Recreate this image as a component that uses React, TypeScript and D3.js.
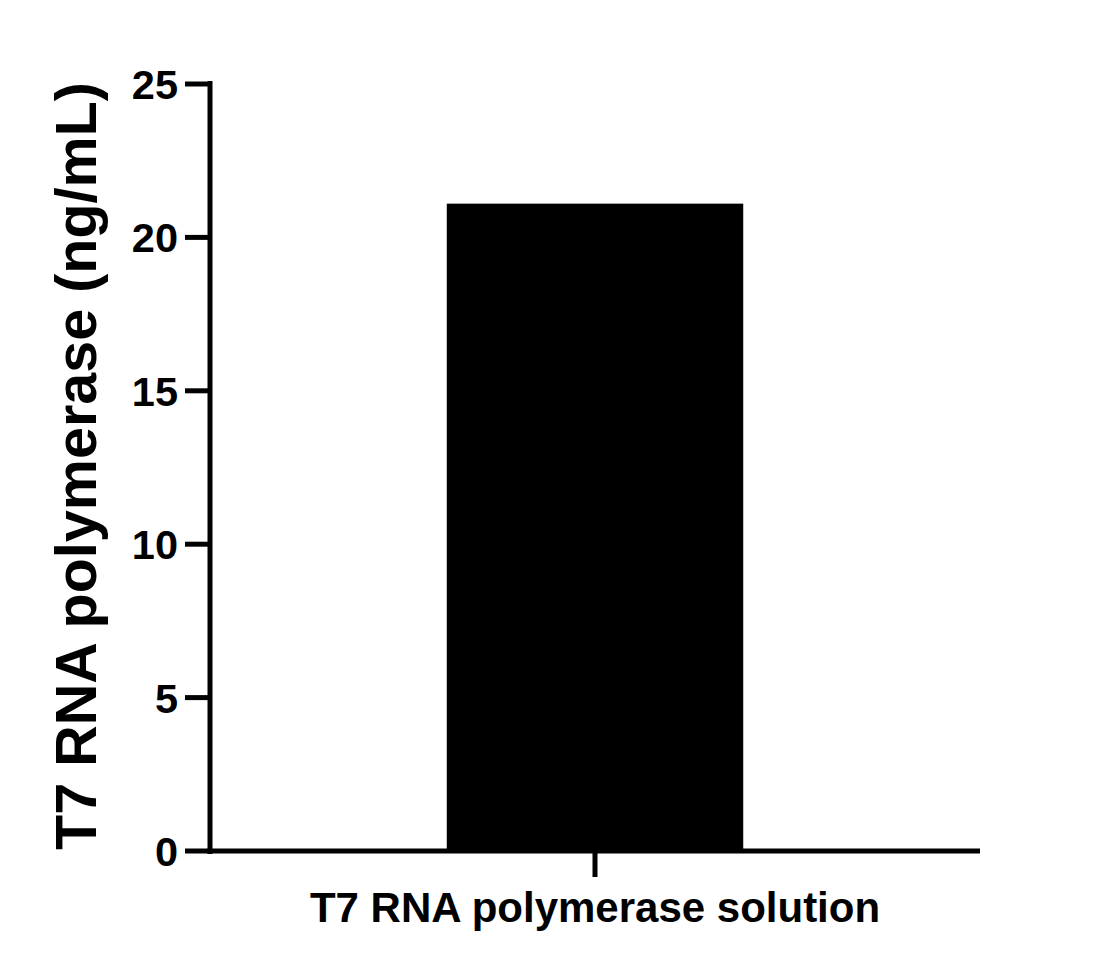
import React from "react";
import * as d3 from "d3";

const categories = ["T7 RNA polymerase solution"];
const values = [21.1];
const yTicks = [0, 5, 10, 15, 20, 25];
const yLabel = "T7 RNA polymerase (ng/mL)";

export default function App() {
  const W = 1116, H = 968;
  const x0 = 210, x1 = 980, yTop = 84, yBot = 851;
  const y = d3.scaleLinear().domain([0, 25]).range([yBot, yTop]);
  const x = d3.scaleBand().domain(categories).range([x0, x1]).paddingInner(0.615).paddingOuter(0.3075);
  const font = "'Liberation Sans', Arial, sans-serif";
  return (
    <svg width={W} height={H} style={{ position: "absolute", left: 0, top: 0 }}>
      <rect width={W} height={H} fill="#fff" />
      {categories.map((c, i) => (
        <rect key={c} x={x(c)!} y={y(values[i])} width={x.bandwidth()} height={yBot - y(values[i])} fill="#000" />
      ))}
      <line x1={x0} x2={x0} y1={yTop - 3} y2={yBot + 3} stroke="#000" strokeWidth={5} />
      <line x1={x0 - 2.5} x2={x1} y1={yBot} y2={yBot} stroke="#000" strokeWidth={5} />
      {yTicks.map((t) => (
        <g key={t}>
          <line x1={185} x2={x0} y1={y(t)} y2={y(t)} stroke="#000" strokeWidth={5} />
          <text x={178} y={y(t)} dy="0.36em" textAnchor="end" fontFamily={font} fontWeight="bold" fontSize={41.5}>{t}</text>
        </g>
      ))}
      {categories.map((c) => (
        <g key={c}>
          <line x1={x(c)! + x.bandwidth() / 2} x2={x(c)! + x.bandwidth() / 2} y1={yBot} y2={877} stroke="#000" strokeWidth={5} />
          <text x={x(c)! + x.bandwidth() / 2} y={922} textAnchor="middle" fontFamily={font} fontWeight="bold" fontSize={42}>{c}</text>
        </g>
      ))}
      <text transform={`translate(96,466) rotate(-90)`} textAnchor="middle" fontFamily={font} fontWeight="bold" fontSize={57.5}>{yLabel}</text>
    </svg>
  );
}
